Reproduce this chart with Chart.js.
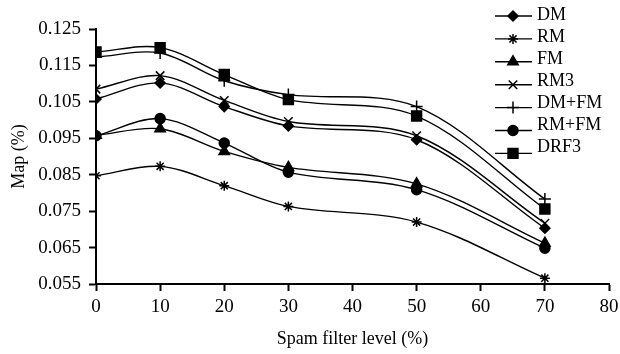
<!DOCTYPE html>
<html>
<head>
<meta charset="utf-8">
<script src="https://cdn.jsdelivr.net/npm/chart.js@4/dist/chart.umd.min.js"></script>
<style>
  html, body { margin: 0; padding: 0; background: #fff; }
  #wrap { width: 620px; height: 354px; }
</style>
</head>
<body>
<div id="wrap"><canvas id="myChart" width="620" height="354"></canvas></div>
<script>
// spam filter levels (x)
const levels = [0, 10, 20, 30, 50, 70];

const seriesNames = ['DM', 'RM', 'FM', 'RM3', 'DM+FM', 'RM+FM', 'DRF3'];

// MAP values
const dm   = [0.1058, 0.1102, 0.1037, 0.0984, 0.0946, 0.0703];
const rm   = [0.0847, 0.0873, 0.0820, 0.0763, 0.0720, 0.0566];
const fm   = [0.0958, 0.0976, 0.0914, 0.0870, 0.0825, 0.0662];
const rm3  = [0.1085, 0.1122, 0.1054, 0.0996, 0.0957, 0.0717];
const dmfm = [0.1173, 0.1184, 0.1108, 0.1070, 0.1037, 0.0783];
const rmfm = [0.0957, 0.1004, 0.0937, 0.0857, 0.0809, 0.0648];
const drf3 = [0.1187, 0.1199, 0.1125, 0.1056, 0.1011, 0.0756];

const xTicks = [0, 10, 20, 30, 40, 50, 60, 70, 80];
const yTicks = [0.055, 0.065, 0.075, 0.085, 0.095, 0.105, 0.115, 0.125];

const FONT = '"Liberation Serif", "Times New Roman", serif';

const styles = [
    { pointStyle: 'rectRot', r: 5 },
    { pointStyle: 'star', r: 5 },
    { pointStyle: 'triangle', r: 6 },
    { pointStyle: 'crossRot', r: 6 },
    { pointStyle: 'cross', r: 6 },
    { pointStyle: 'circle', r: 5 },
    { pointStyle: 'rect', r: 7 }
];

const allValues = [dm, rm, fm, rm3, dmfm, rmfm, drf3];

const datasets = seriesNames.map((name, i) => ({
    label: name,
    data: levels.map((x, j) => ({ x: x, y: allValues[i][j] })),
    borderColor: '#000',
    backgroundColor: '#000',
    borderWidth: 1.4,
    tension: 0.33,
    pointStyle: styles[i].pointStyle,
    pointRadius: styles[i].r,
    pointBorderWidth: 1.5,
    pointBorderColor: '#000',
    pointBackgroundColor: '#000'
}));

// legend drawn at top right: line with marker, then label
const lineLegend = {
    id: 'lineLegend',
    afterDraw(chart) {
        const c = chart.ctx;
        c.save();
        c.font = '18px ' + FONT;
        c.textBaseline = 'middle';
        chart.data.datasets.forEach((ds, i) => {
            const ty = 15 + i * 22;
            const ly = ty + 1 + i * 0.9;
            c.strokeStyle = '#000';
            c.lineWidth = 1.4;
            c.beginPath();
            c.moveTo(495, ly);
            c.lineTo(532, ly);
            c.stroke();
            c.fillStyle = '#000';
            c.lineWidth = 1.5;
            Chart.helpers.drawPoint(c, {
                pointStyle: ds.pointStyle,
                radius: ds.pointRadius,
                rotation: 0,
                borderWidth: 1.5
            }, 513, ly);
            c.fillStyle = '#000';
            c.fillText(ds.label, 537, ty);
        });
        c.restore();
    }
};

const tickGrid = { display: true, drawOnChartArea: false, drawTicks: true, tickLength: 7, tickColor: '#000', tickWidth: 2 };

const ctx = document.getElementById('myChart').getContext('2d');
const myChart = new Chart(ctx, {
    type: 'line',
    data: { datasets: datasets },
    options: {
        responsive: false,
        animation: false,
        layout: { padding: { left: 0, right: 11, top: 29, bottom: 0 } },
        plugins: {
            legend: { display: false },
            tooltip: { enabled: false }
        },
        scales: {
            x: {
                type: 'linear',
                min: 0,
                max: 80,
                afterBuildTicks: s => { s.ticks = xTicks.map(v => ({ value: v })); },
                afterFit: s => { s.height = 70; s.paddingLeft = 0; s.paddingRight = 0; },
                border: { color: '#000', width: 2 },
                grid: tickGrid,
                ticks: { color: '#000', font: { family: FONT, size: 19 }, padding: 5, maxRotation: 0 },
                title: { display: true, text: 'Spam filter level (%)', color: '#000', font: { family: FONT, size: 18 }, padding: { top: 6 } }
            },
            y: {
                min: 0.055,
                max: 0.125,
                afterBuildTicks: s => { s.ticks = yTicks.map(v => ({ value: v })); },
                afterFit: s => { s.width = 96; s.paddingTop = 0; s.paddingBottom = 0; },
                border: { color: '#000', width: 2 },
                grid: tickGrid,
                ticks: {
                    color: '#000',
                    font: { family: FONT, size: 19 },
                    padding: 8,
                    callback: v => v.toFixed(3)
                },
                title: { display: true, text: 'Map (%)', color: '#000', font: { family: FONT, size: 18 }, padding: { top: 8, bottom: 0 } }
            }
        }
    },
    plugins: [lineLegend]
});
</script>
</body>
</html>
